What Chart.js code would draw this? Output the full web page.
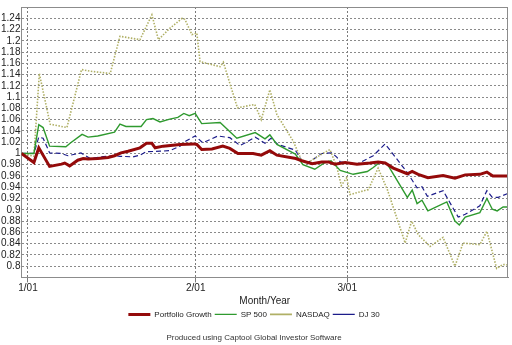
<!DOCTYPE html>
<html>
<head>
<meta charset="utf-8">
<script src="https://cdn.jsdelivr.net/npm/chart.js@4/dist/chart.umd.min.js"></script>
<style>
  body { margin: 0; background: #fff; }
</style>
</head>
<body>
<canvas id="growthChart" width="512" height="345"></canvas>
<script>
// x values are days counted from 1 Jan 2001
const monthTicks = [0, 31, 59];
const monthLabels = ['1/01', '2/01', '3/01'];

const portfolioDays = [-1.2, 1.1, 2.0, 4.0, 6.2, 6.8, 7.7, 9.2, 10.2, 11.1, 12.9, 14.8, 16.0, 17.2, 18.5, 20.7, 21.9, 22.9, 23.5, 25.0,
  28.1, 30.6, 31.2, 32.1, 34.0, 36.0, 37.3, 38.8, 41.6, 43.1, 44.7, 46.0, 49.5, 50.6, 52.5, 54.3, 55.5, 56.7, 58.6, 60.8,
  63.2, 64.7, 66.0, 67.5, 70.1, 71.0, 72.1, 73.9, 76.7, 78.9, 80.8, 83.5, 84.8, 85.9, 88.7];
const portfolioGrowth = [1.000, 0.984, 1.010, 0.977, 0.981, 0.983, 0.978, 0.988, 0.991, 0.990, 0.991, 0.993, 0.996, 1.001, 1.004, 1.010, 1.018, 1.018, 1.010, 1.013,
  1.016, 1.017, 1.016, 1.007, 1.008, 1.013, 1.009, 1.000, 1.000, 0.997, 1.005, 0.997, 0.991, 0.987, 0.982, 0.985, 0.985, 0.981, 0.984, 0.981,
  0.983, 0.985, 0.983, 0.974, 0.964, 0.968, 0.963, 0.957, 0.961, 0.956, 0.962, 0.963, 0.967, 0.960, 0.960];

const sp500Days = [-1.2, 1.1, 2.0, 2.8, 4.0, 7.0, 7.9, 10.0, 11.1, 12.9, 16.0, 17.0, 18.1, 20.9, 21.9, 23.1, 24.4, 26.2, 27.7, 28.8,
  29.8, 30.9, 32.1, 35.5, 38.6, 42.0, 43.8, 44.7, 46.0, 49.4, 50.8, 53.0, 54.9, 56.0, 57.7, 60.1, 62.7, 63.8, 65.1, 66.4,
  70.1, 71.0, 71.9, 72.8, 73.9, 77.4, 78.9, 79.7, 80.8, 83.5, 84.8, 85.8, 86.7, 87.8, 88.7];
const sp500 = [1.000, 1.000, 1.051, 1.046, 1.013, 1.012, 1.019, 1.034, 1.029, 1.031, 1.038, 1.052, 1.048, 1.048, 1.060, 1.062, 1.056, 1.061, 1.064, 1.071,
  1.067, 1.071, 1.053, 1.055, 1.027, 1.037, 1.026, 1.033, 1.016, 0.999, 0.980, 0.972, 0.984, 0.987, 0.970, 0.963, 0.968, 0.975, 0.985, 0.981,
  0.922, 0.935, 0.911, 0.917, 0.898, 0.914, 0.880, 0.873, 0.887, 0.895, 0.920, 0.901, 0.898, 0.905, 0.905];

const nasdaqDays = [-1.2, 1.1, 2.1, 4.1, 7.2, 9.9, 11.5, 15.2, 17.0, 20.7, 22.9, 24.1, 26.2, 28.5, 29.0, 30.3, 31.2, 31.8, 35.5, 36.1,
  38.7, 41.9, 43.1, 44.7, 46.0, 49.0, 50.6, 51.8, 54.3, 55.8, 57.1, 57.9, 58.9, 59.5, 62.9, 64.7, 66.4, 69.7, 70.9, 72.1,
  74.3, 76.7, 78.9, 80.4, 83.5, 84.8, 86.6, 87.8, 88.7];
const nasdaq = [1.000, 0.995, 1.142, 1.052, 1.046, 1.149, 1.146, 1.142, 1.208, 1.202, 1.246, 1.202, 1.222, 1.240, 1.238, 1.211, 1.214, 1.163, 1.154, 1.162,
  1.081, 1.087, 1.060, 1.113, 1.069, 1.022, 0.987, 0.984, 0.999, 1.007, 0.975, 0.943, 0.957, 0.927, 0.936, 0.974, 0.936, 0.841, 0.880, 0.856,
  0.835, 0.851, 0.800, 0.841, 0.838, 0.862, 0.796, 0.803, 0.802];

const dj30Days = [-1.2, 1.1, 2.0, 2.8, 4.0, 6.1, 7.4, 9.8, 11.5, 13.5, 15.9, 17.0, 19.4, 20.7, 21.8, 24.4, 26.2, 28.1, 29.2, 30.9,
  32.3, 35.1, 37.3, 39.2, 42.0, 43.8, 44.9, 46.2, 49.4, 50.6, 51.8, 54.3, 56.2, 57.1, 57.7, 60.8, 63.8, 66.0, 70.1, 71.9,
  72.8, 73.8, 76.7, 79.5, 80.8, 83.5, 84.8, 85.8, 86.9, 88.7];
const dj30 = [1.000, 1.000, 1.029, 1.027, 1.001, 1.000, 0.996, 1.001, 0.991, 0.994, 0.996, 0.995, 0.994, 0.997, 1.003, 1.004, 1.005, 1.013, 1.022, 1.031,
  1.019, 1.031, 1.028, 1.014, 1.029, 1.018, 1.027, 1.016, 1.006, 0.987, 0.984, 1.000, 1.001, 0.993, 0.985, 0.981, 0.996, 1.017, 0.966, 0.939,
  0.941, 0.924, 0.934, 0.887, 0.892, 0.907, 0.934, 0.922, 0.922, 0.929];

function pairs(days, values) {
    return days.map((d, i) => ({ x: d, y: values[i] }));
}

const framePlugin = {
    id: 'frame',
    afterDraw(chart) {
        const a = chart.chartArea;
        const c = chart.ctx;
        c.save();
        c.strokeStyle = '#8c8c8c';
        c.lineWidth = 1;
        c.beginPath();
        c.moveTo(a.left, a.top + 0.5);
        c.lineTo(a.right - 0.5, a.top + 0.5);
        c.lineTo(a.right - 0.5, a.bottom);
        c.stroke();
        c.restore();
    }
};

const ctx = document.getElementById('growthChart').getContext('2d');
new Chart(ctx, {
    type: 'line',
    data: {
        datasets: [{
            label: 'Portfolio Growth',
            borderColor: '#940a0a',
            backgroundColor: '#940a0a',
            borderWidth: 3,
            data: pairs(portfolioDays, portfolioGrowth),
        }, {
            label: 'SP 500',
            borderColor: '#2f9a2f',
            backgroundColor: '#2f9a2f',
            borderWidth: 1.4,
            data: pairs(sp500Days, sp500),
        }, {
            label: 'NASDAQ',
            borderColor: '#b0b066',
            backgroundColor: '#b0b066',
            borderWidth: 1.6,
            borderDash: [1.5, 1.5],
            data: pairs(nasdaqDays, nasdaq),
        }, {
            label: 'DJ 30',
            borderColor: '#1c1c8a',
            backgroundColor: '#1c1c8a',
            borderWidth: 1.2,
            borderDash: [5, 3],
            data: pairs(dj30Days, dj30),
        }]
    },
    options: {
        responsive: false,
        animation: false,
        elements: { point: { radius: 0 }, line: { tension: 0 } },
        layout: { padding: { top: 4, right: 4, left: 0, bottom: 2 } },
        scales: {
            x: {
                type: 'linear',
                min: -1.2,
                max: 88.7,
                afterBuildTicks: scale => {
                    scale.ticks = monthTicks.map(v => ({ value: v }));
                },
                ticks: {
                    autoSkip: false,
                    maxRotation: 0,
                    padding: 0,
                    color: '#222',
                    font: { family: 'Liberation Sans', size: 10 },
                    callback: value => monthLabels[monthTicks.indexOf(value)]
                },
                grid: { color: '#7a7a7a', tickLength: 5, tickColor: '#7a7a7a' },
                border: { color: '#8c8c8c', dash: [2, 2] },
                title: {
                    display: true,
                    text: 'Month/Year',
                    color: '#222',
                    font: { family: 'Liberation Sans', size: 10 },
                    padding: { top: 1, bottom: 0 }
                }
            },
            y: {
                min: 0.78,
                max: 1.26,
                ticks: {
                    stepSize: 0.02,
                    autoSkip: false,
                    padding: 1,
                    color: '#222',
                    font: { family: 'Liberation Sans', size: 10 },
                    callback: value => {
                        const v = Math.round(value * 100) / 100;
                        if (v <= 0.78 || v >= 1.26) return '';
                        return String(v);
                    }
                },
                grid: { color: '#8a8a8a', drawTicks: false },
                border: { color: '#8c8c8c', dash: [2, 2] }
            }
        },
        plugins: {
            legend: {
                position: 'bottom',
                labels: {
                    usePointStyle: true,
                    pointStyle: 'line',
                    pointStyleWidth: 22,
                    boxHeight: 6,
                    padding: 3,
                    color: '#222',
                    font: { family: 'Liberation Sans', size: 8 }
                }
            },
            title: {
                display: true,
                position: 'bottom',
                text: 'Produced using Captool Global Investor Software',
                color: '#333',
                font: { family: 'Liberation Sans', size: 8, weight: 'normal' },
                padding: { top: 5, bottom: 0 }
            },
            tooltip: { enabled: false }
        }
    },
    plugins: [framePlugin]
});
</script>
</body>
</html>
